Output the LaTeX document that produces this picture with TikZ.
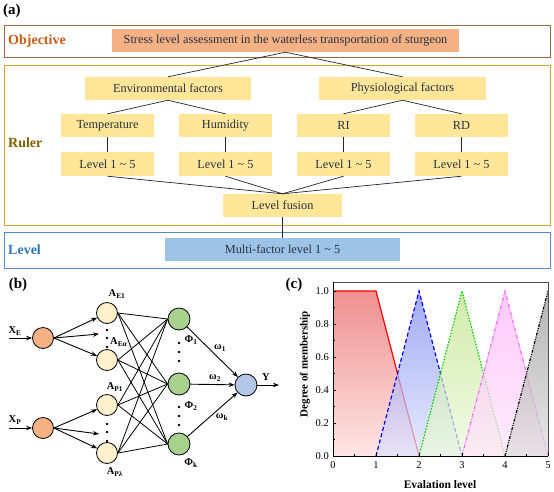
\documentclass[tikz,border=0pt]{standalone}
\usepackage{fontspec}
\setmainfont{Liberation Serif}
\usetikzlibrary{arrows.meta}
\definecolor{objc}{RGB}{168,100,62}
\definecolor{objt}{RGB}{197,90,17}
\definecolor{salmon}{RGB}{244,177,131}
\definecolor{rulb}{RGB}{214,165,40}
\definecolor{rult}{RGB}{127,96,0}
\definecolor{ybox}{RGB}{255,230,153}
\definecolor{levb}{RGB}{80,140,200}
\definecolor{levt}{RGB}{46,117,182}
\definecolor{bbox}{RGB}{157,195,230}
\definecolor{txt}{RGB}{40,48,66}
\definecolor{nodeo}{RGB}{244,177,131}
\definecolor{nodey}{RGB}{255,242,204}
\definecolor{nodeg}{RGB}{169,209,142}
\definecolor{nodeb}{RGB}{180,199,231}
\definecolor{c1t}{RGB}{236,125,125}
\definecolor{c1b}{RGB}{255,226,226}
\definecolor{c2t}{RGB}{125,135,238}
\definecolor{c2b}{RGB}{222,228,255}
\definecolor{c3t}{RGB}{192,226,135}
\definecolor{c3b}{RGB}{236,250,222}
\definecolor{c4t}{RGB}{255,180,250}
\definecolor{c4b}{RGB}{255,230,250}
\definecolor{c5t}{RGB}{150,150,150}
\definecolor{c5b}{RGB}{222,222,222}
\definecolor{lgreen}{RGB}{0,215,0}
\definecolor{lmag}{RGB}{250,110,250}
\begin{document}
\begin{tikzpicture}[x=1pt,y=-1pt,
  box/.style={rectangle, inner sep=0pt, text=txt, font=\fontsize{12.3}{13}\selectfont},
  ybx/.style={box, fill=ybox, minimum height=23pt},
  lvbx/.style={box, fill=ybox, minimum width=93pt, minimum height=24pt},
  framebox/.style={rectangle, line width=1pt, minimum width=546pt, inner sep=0pt},
  link/.style={line width=0.7pt, draw=black!85},
  neuron/.style={circle, draw=black, line width=0.8pt, minimum size=21pt, inner sep=0pt},
  arr/.style={-{Stealth[length=6pt,width=4.5pt]}, line width=0.9pt},
  nnlab/.style={font=\bfseries\fontsize{10.5}{10.5}\selectfont, inner sep=0pt},
  panel/.style={font=\bfseries\fontsize{15}{15}\selectfont, inner sep=0pt},
  dotc/.style={circle, fill=black, inner sep=0pt, minimum size=2.8pt},
  tick/.style={font=\fontsize{10.5}{10.5}\selectfont, inner sep=0pt}
]
\useasboundingbox (0,0) rectangle (554,491);
\fill[white] (0,0) rectangle (554,491);

% ---------------- panel (a) ----------------
\node[panel, anchor=west] (la) at (3,11) {(a)};

\node[framebox, draw=objc, minimum height=32pt] (objf) at (277,41) {};
\node[framebox, draw=rulb, minimum height=160pt] (rulf) at (277,145) {};
\node[framebox, draw=levb, minimum height=36pt] (levf) at (277,250) {};

\node[anchor=west, text=objt, font=\bfseries\fontsize{14}{14}\selectfont, inner sep=0pt] (tobj) at (8,41) {Objective};
\node[anchor=west, text=rult, font=\bfseries\fontsize{14}{14}\selectfont, inner sep=0pt] (trul) at (8,143) {Ruler};
\node[anchor=west, text=levt, font=\bfseries\fontsize{14}{14}\selectfont, inner sep=0pt] (tlev) at (8,250) {Level};

\node[box, fill=salmon, minimum width=347pt, minimum height=23pt] (stress) at (285.5,40.5) {Stress level assessment in the waterless transportation of sturgeon};
\node[ybx, minimum width=166pt] (env) at (168,88.5) {Environmental factors};
\node[ybx, minimum width=167pt] (phys) at (402.5,88.5) {Physiological factors};
\node[ybx, minimum width=93pt] (temp) at (107.5,125.5) {Temperature};
\node[ybx, minimum width=93pt] (hum) at (225.5,125.5) {Humidity};
\node[ybx, minimum width=93pt] (ri) at (343.5,125.5) {RI};
\node[ybx, minimum width=93pt] (rd) at (461.5,125.5) {RD};
\node[lvbx] (l1) at (107.5,164) {Level 1 \textasciitilde{} 5};
\node[lvbx] (l2) at (225.5,164) {Level 1 \textasciitilde{} 5};
\node[lvbx] (l3) at (343.5,164) {Level 1 \textasciitilde{} 5};
\node[lvbx] (l4) at (461.5,164) {Level 1 \textasciitilde{} 5};
\node[ybx, minimum width=119pt] (fus) at (282.5,205.5) {Level fusion};
\node[box, fill=bbox, minimum width=235pt, minimum height=23pt] (multi) at (282.5,249.5) {Multi-factor level 1 \textasciitilde{} 5};

\draw[link] (stress.south) -- (env.north);
\draw[link] (stress.south) -- (phys.north);
\draw[link] (env.south) -- (temp.north);
\draw[link] (env.south) -- (hum.north);
\draw[link] (phys.south) -- (ri.north);
\draw[link] (phys.south) -- (rd.north);
\draw[link] (temp.south) -- (l1.north);
\draw[link] (hum.south) -- (l2.north);
\draw[link] (ri.south) -- (l3.north);
\draw[link] (rd.south) -- (l4.north);
\foreach \l in {l1,l2,l3,l4} \draw[link] (\l.south) -- (fus.north);
\draw[link] (fus.south) -- (multi.north);

% ---------------- panel (b) ----------------
\node[panel] (lb) at (18,285) {(b)};

\node[neuron, fill=nodeo] (XE) at (43,338) {};
\node[neuron, fill=nodeo] (XP) at (43,428) {};
\node[neuron, fill=nodey] (AE1) at (107,313) {};
\node[neuron, fill=nodey] (AEa) at (107,360) {};
\node[neuron, fill=nodey] (AP1) at (107,405) {};
\node[neuron, fill=nodey] (APl) at (107,453) {};
\node[neuron, fill=nodeg, minimum size=22pt] (P1) at (179,319) {};
\node[neuron, fill=nodeg, minimum size=22pt] (P2) at (179,384) {};
\node[neuron, fill=nodeg, minimum size=22pt] (Pk) at (179,444) {};
\node[neuron, fill=nodeb, minimum size=22pt] (out) at (246,385) {};

\coordinate (xein) at (9,338);
\coordinate (xpin) at (9,428);
\coordinate (xemid) at (99,334);
\coordinate (xpmid) at (99,434);
\coordinate (yend) at (279,385);

\draw[arr] (xein) -- (XE.west);
\draw[arr] (xpin) -- (XP.west);
\draw[arr] (XE.east) -- (AE1);
\draw[arr] (XE.east) -- (xemid);
\draw[arr] (XE.east) -- (AEa);
\draw[arr] (XP.east) -- (AP1);
\draw[arr] (XP.east) -- (xpmid);
\draw[arr] (XP.east) -- (APl);
\foreach \a in {AE1,AEa,AP1,APl}
  \foreach \b in {P1,P2,Pk}
    \draw[link, draw=black, line width=0.8pt] (\a.east) -- (\b.west);
\draw[arr] (P1) -- (out);
\draw[arr] (P2) -- (out);
\draw[arr] (Pk) -- (out);
\draw[arr] (out.east) -- (yend);

\foreach \y [count=\i] in {330,338,347} \node[dotc] (dae\i) at (107,\y) {};
\foreach \y [count=\i] in {424,432,441} \node[dotc] (dap\i) at (107,\y) {};
\foreach \y [count=\i] in {343,352,361} \node[dotc] (dpa\i) at (179,\y) {};
\foreach \y [count=\i] in {407,416,425} \node[dotc] (dpb\i) at (179,\y) {};

\node[nnlab] (tXE) at (15,331) {X\textsubscript{E}};
\node[nnlab] (tXP) at (15,420) {X\textsubscript{P}};
\node[nnlab] (tAE1) at (117,294) {A\textsubscript{E1}};
\node[nnlab, anchor=west] (tAEa) at (110,342) {A\textsubscript{Eα}};
\node[nnlab] (tAP1) at (115,387) {A\textsubscript{P1}};
\node[nnlab] (tAPl) at (115,472) {A\textsubscript{Pλ}};
\node[nnlab] (tP1) at (191,340) {Φ\textsubscript{1}};
\node[nnlab] (tP2) at (191,406) {Φ\textsubscript{2}};
\node[nnlab] (tPk) at (191,463) {Φ\textsubscript{k}};
\node[nnlab] (tw1) at (220,348) {ω\textsubscript{1}};
\node[nnlab] (tw2) at (215,378) {ω\textsubscript{2}};
\node[nnlab] (twk) at (222,417) {ω\textsubscript{k}};
\node[nnlab] (tY) at (266,377) {Y};

% ---------------- panel (c) ----------------
\node[panel] (lc) at (294,285) {(c)};
\node[rotate=90, font=\bfseries\fontsize{11}{11}\selectfont, inner sep=0pt] (ylab) at (305,364) {Degree of membership};
\node[font=\bfseries\fontsize{11.5}{11.5}\selectfont, inner sep=0pt] (xlab) at (440,485) {Evalation level};

\begin{scope}[shift={(333pt,-456pt)}, x=43pt, y=165pt]
  \shade[top color=c1t, bottom color=c1b, opacity=0.85] (0,0) -- (0,1) -- (1,1) -- (2,0) -- cycle;
  \draw[red, line width=1.2pt] (0,1) -- (1,1) -- (2,0);
  \shade[top color=c2t, bottom color=c2b, opacity=0.7] (1,0) -- (2,1) -- (3,0) -- cycle;
  \draw[blue, line width=1.2pt, dash pattern=on 4pt off 2.5pt] (1,0) -- (2,1) -- (3,0);
  \shade[top color=c3t, bottom color=c3b, opacity=0.7] (2,0) -- (3,1) -- (4,0) -- cycle;
  \draw[lgreen, line width=1.2pt, dash pattern=on 1.5pt off 1.5pt] (2,0) -- (3,1) -- (4,0);
  \shade[top color=c4t, bottom color=c4b, opacity=0.7] (3,0) -- (4,1) -- (5,0) -- cycle;
  \draw[lmag, line width=1.2pt, dash pattern=on 4pt off 1.5pt on 1pt off 1.5pt] (3,0) -- (4,1) -- (5,0);
  \shade[top color=c5t, bottom color=c5b, opacity=0.7] (4,0) -- (5,1) -- (5,0) -- cycle;
  \draw[black, line width=1.2pt, dash pattern=on 3pt off 1.3pt on 1pt off 1.3pt on 1pt off 1.3pt] (4,0) -- (5,1);
  % frame
  \draw[black!70, line width=0.8pt] (0,1.055) -- (5,1.055) -- (5,0);
  \draw[black, line width=0.9pt] (0,1.055) -- (0,0) -- (5,0);
  \foreach \i in {0,...,5} {
    \draw[line width=0.6pt] (\i,0) -- ++(0,3pt);
    \node[tick, anchor=north] (xt\i) at ([yshift=-5pt]\i,0) {\i};
  }
  \foreach \i in {0.5,1.5,2.5,3.5,4.5} \draw[line width=0.5pt] (\i,0) -- ++(0,1.8pt);
  \foreach \v [count=\k] in {0.0,0.2,0.4,0.6,0.8,1.0} {
    \draw[line width=0.6pt] (0,\v) -- ++(3pt,0);
    \node[tick, anchor=east] (yt\k) at ([xshift=-4pt]0,\v) {\v};
  }
  \foreach \v in {0.1,0.3,0.5,0.7,0.9} \draw[line width=0.5pt] (0,\v) -- ++(1.8pt,0);
\end{scope}
\end{tikzpicture}
\end{document}
